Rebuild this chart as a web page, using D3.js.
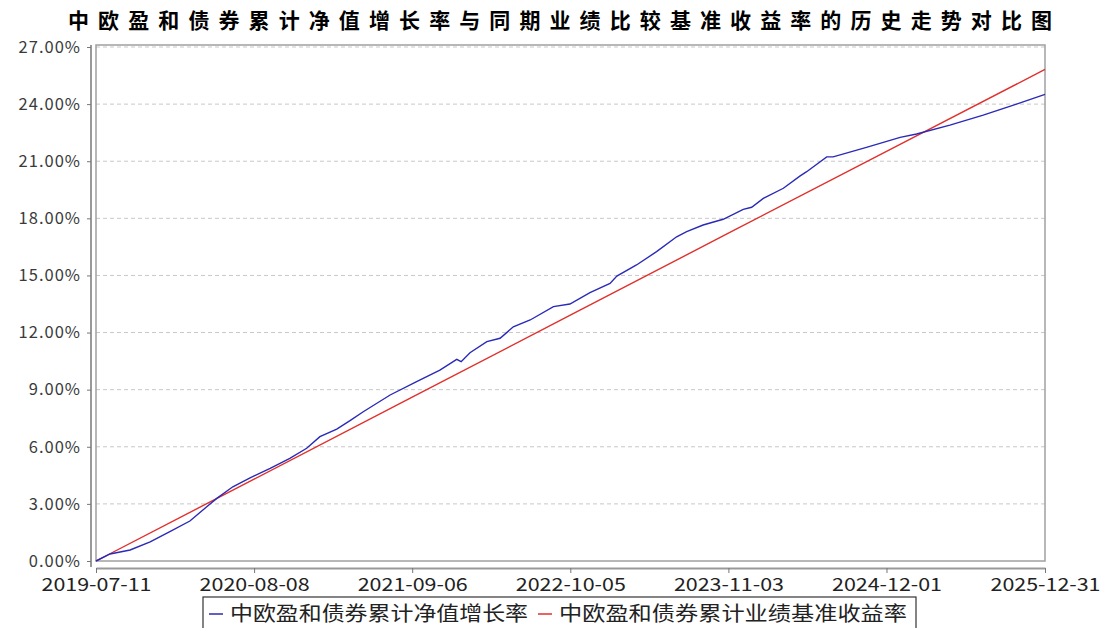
<!DOCTYPE html>
<html>
<head>
<meta charset="utf-8">
<script src="https://cdn.jsdelivr.net/npm/d3@7"></script>
<style>
  html, body { margin: 0; padding: 0; background: #fff; }
  svg { display: block; }
  text { font-family: "Noto Sans CJK SC", "Noto Sans", sans-serif; }
</style>
</head>
<body>
<svg id="chart" width="1100" height="628"></svg>
<script>
// ---- data ----
const titleText = "中欧盈和债券累计净值增长率与同期业绩比较基准收益率的历史走势对比图";
const seriesNames = ["中欧盈和债券累计净值增长率", "中欧盈和债券累计业绩基准收益率"];

const navDates = [
  "2019-07-11","2019-08-15","2019-10-04","2019-11-23","2020-01-11","2020-03-01",
  "2020-04-12","2020-05-07","2020-06-16","2020-07-29","2020-09-17","2020-11-05",
  "2020-12-17","2021-01-19","2021-03-02","2021-04-04","2021-05-07","2021-07-13",
  "2021-09-17","2021-11-14","2021-12-26","2022-01-06","2022-01-28","2022-03-11",
  "2022-04-13","2022-05-16","2022-06-27","2022-08-24","2022-10-04","2022-11-23",
  "2023-01-12","2023-01-29","2023-03-19","2023-05-08","2023-06-27","2023-07-22",
  "2023-09-01","2023-10-21","2023-12-10","2023-12-31","2024-01-29","2024-03-19",
  "2024-04-29","2024-05-16","2024-07-05","2024-07-21","2024-10-12","2025-01-04",
  "2025-02-14","2025-05-08","2025-07-30","2025-10-21","2025-12-31"
];
const navValues = [
  0.00, 0.37, 0.58, 1.00, 1.54, 2.10,
  2.85, 3.29, 3.90, 4.37, 4.87, 5.39,
  5.92, 6.53, 6.93, 7.37, 7.84, 8.72,
  9.42, 10.03, 10.59, 10.47, 10.94, 11.52,
  11.70, 12.30, 12.66, 13.36, 13.50, 14.10,
  14.58, 14.97, 15.55, 16.25, 17.03, 17.30,
  17.65, 17.95, 18.47, 18.58, 19.05, 19.58,
  20.22, 20.45, 21.23, 21.23, 21.73, 22.25,
  22.43, 22.90, 23.42, 24.00, 24.51
];

const benchDates = ["2019-07-11","2020-08-08","2021-09-06","2022-10-05","2023-11-03","2024-12-01","2025-12-31"];
const benchValues = [0.00, 4.30, 8.61, 12.91, 17.22, 21.52, 25.82];

const yTicks = [0, 3, 6, 9, 12, 15, 18, 21, 24, 27];
const xTickLabels = ["2019-07-11","2020-08-08","2021-09-06","2022-10-05","2023-11-03","2024-12-01","2025-12-31"];

// ---- drawing ----
(function () {
const parse = d3.timeParse("%Y-%m-%d");
const fmt = d3.timeFormat("%Y-%m-%d");
const svg = d3.select("#chart");

const pL = 96, pR = 1045, pT = 45, pB = 561;
const x = d3.scaleTime().domain([parse("2019-07-11"), parse("2025-12-31")]).range([pL, pR]);
const y = d3.scaleLinear().domain([0, 27]).range([pB, 47]);

// title
svg.append("text")
  .attr("x", 68).attr("y", 28)
  .attr("textLength", 984).attr("lengthAdjust", "spacing")
  .style("font-size", "21px").style("font-weight", "bold").style("fill", "#000")
  .text(titleText);

// gridlines
svg.append("g").selectAll("line")
  .data(yTicks.filter(d => d > 0))
  .join("line")
  .attr("x1", pL).attr("x2", pR)
  .attr("y1", d => y(d)).attr("y2", d => y(d))
  .attr("stroke", "#c8c8c8").attr("stroke-width", 1).attr("stroke-dasharray", "4,3");

// frame
svg.append("rect")
  .attr("x", pL).attr("y", pT).attr("width", pR - pL).attr("height", pB - pT)
  .attr("fill", "none").attr("stroke", "#a0a0a0").attr("stroke-width", 1.5);

// y axis
const yAxis = svg.append("g").attr("transform", "translate(91,0)")
  .call(d3.axisLeft(y).tickValues(yTicks).tickFormat(d => d.toFixed(2) + "%").tickSize(4).tickSizeOuter(0));
yAxis.select(".domain").attr("stroke", "#999").attr("stroke-width", 2).attr("d", `M0,${pT}V567`);
yAxis.selectAll(".tick line").attr("stroke", "#777");
yAxis.selectAll(".tick text")
  .attr("x", -10).attr("dy", "0.32em")
  .style("font-size", "16.5px").style("fill", "#3a3a3a").style("letter-spacing", "1px");

// x axis
const xAxis = svg.append("g").attr("transform", "translate(0,568)")
  .call(d3.axisBottom(x).tickValues(xTickLabels.map(parse)).tickFormat(fmt).tickSize(5).tickSizeOuter(0));
xAxis.select(".domain").attr("stroke", "#999").attr("stroke-width", 2);
xAxis.selectAll(".tick line").attr("stroke", "#777");
xAxis.selectAll(".tick text")
  .attr("y", 10).attr("dy", "0.71em")
  .attr("textLength", 110).attr("lengthAdjust", "spacingAndGlyphs")
  .style("font-size", "18px").style("fill", "#222");

// lines
const line = d3.line().x(d => x(d[0])).y(d => y(d[1]));
const benchData = benchDates.map((d, i) => [parse(d), benchValues[i]]);
const navData = navDates.map((d, i) => [parse(d), navValues[i]]);

svg.append("path").datum(benchData)
  .attr("d", line).attr("fill", "none").attr("stroke", "#e0302c").attr("stroke-width", 1.4);
svg.append("path").datum(navData)
  .attr("d", line).attr("fill", "none").attr("stroke", "#2a2ab8").attr("stroke-width", 1.4);

// legend
const lg = svg.append("g");
lg.append("rect").attr("x", 203).attr("y", 597).attr("width", 713).attr("height", 40)
  .attr("fill", "#fff").attr("stroke", "#333").attr("stroke-width", 1.2);
const legendColors = ["#2a2ab8", "#e0302c"];
const legendX = [209, 538];
const legendTextLen = [298, 348];
seriesNames.forEach((name, i) => {
  lg.append("line").attr("x1", legendX[i]).attr("x2", legendX[i] + 14)
    .attr("y1", 614).attr("y2", 614)
    .attr("stroke", legendColors[i]).attr("stroke-width", 1.5);
  lg.append("text").attr("x", legendX[i] + 21).attr("y", 621)
    .attr("textLength", legendTextLen[i]).attr("lengthAdjust", "spacingAndGlyphs")
    .style("font-size", "20px").style("fill", "#222")
    .text(name);
});
})();
</script>
</body>
</html>
